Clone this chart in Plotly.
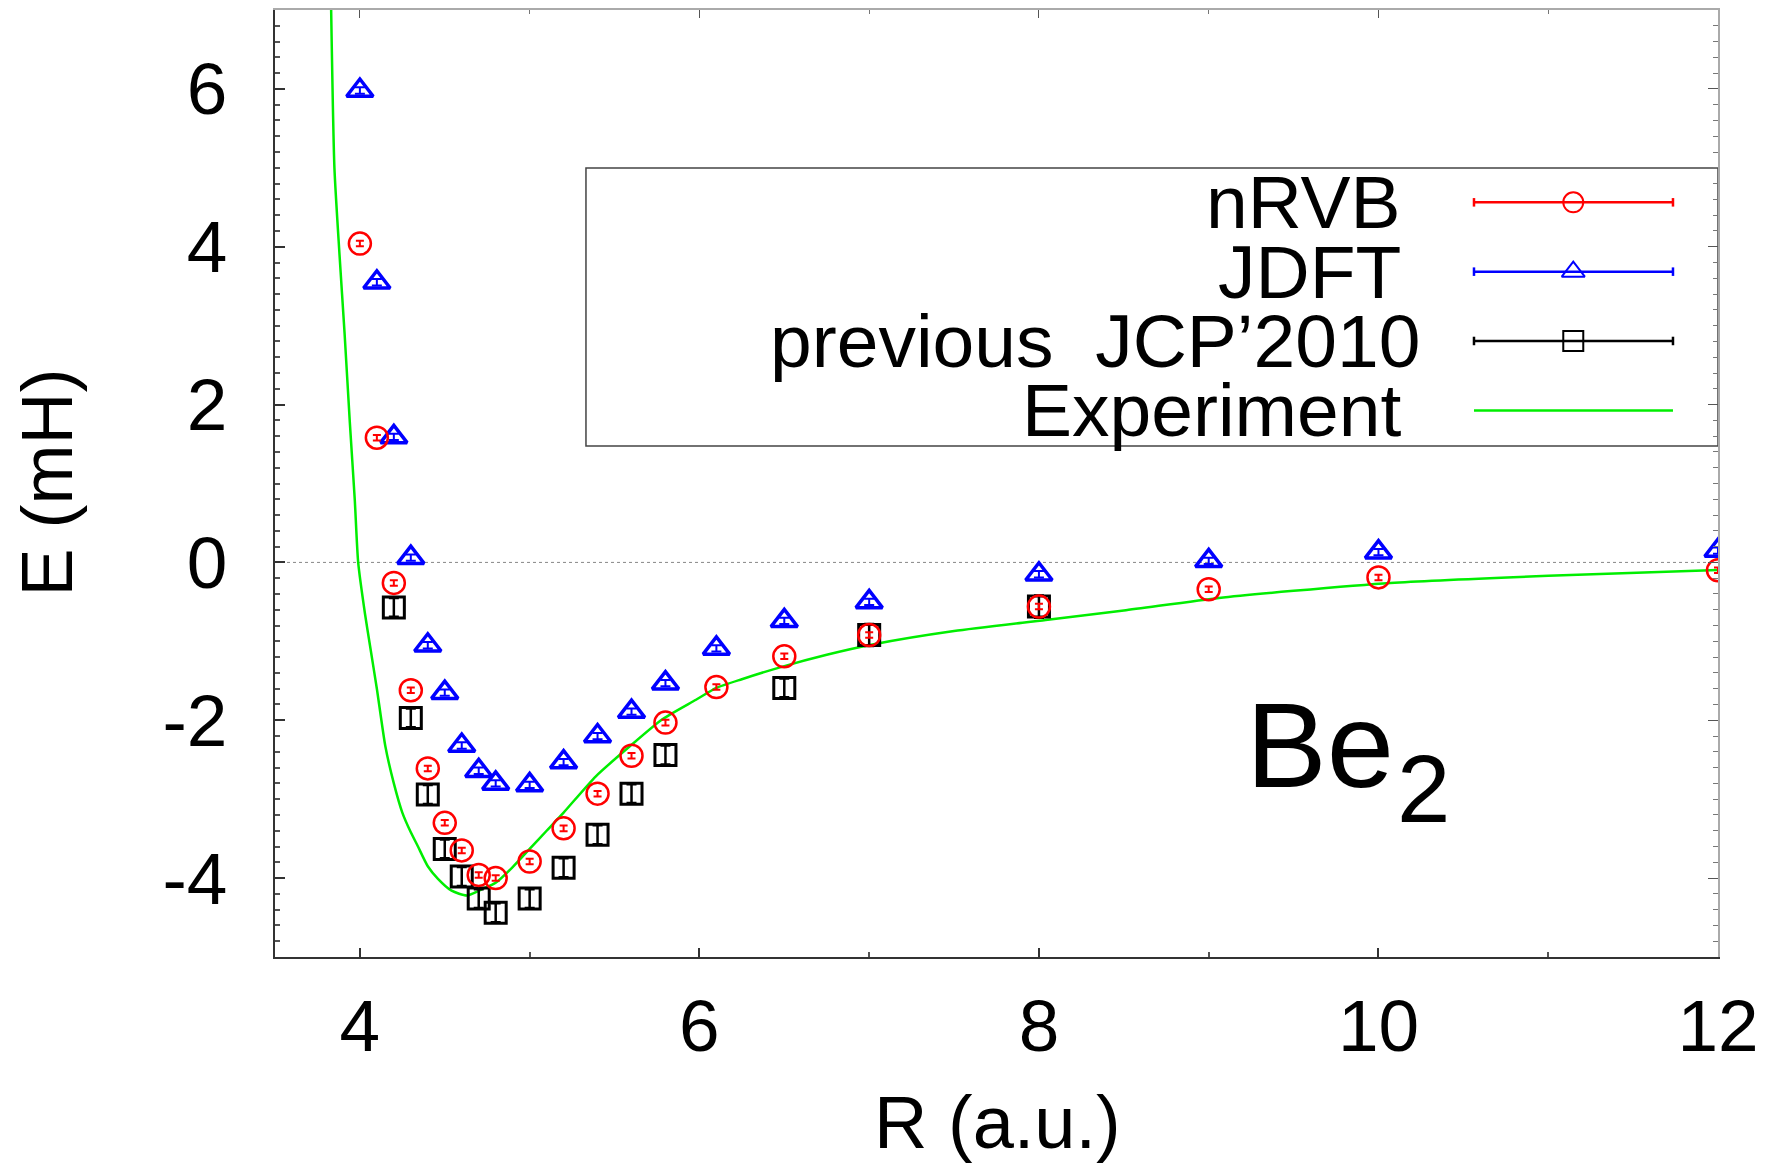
import plotly.graph_objects as go

# ---------------- data ----------------
nrvb_R = [4.0, 4.1, 4.2, 4.3, 4.4, 4.5, 4.6, 4.7, 4.8, 5.0, 5.2, 5.4, 5.6, 5.8, 6.1, 6.5, 7.0, 8.0, 9.0, 10.0, 12.0]
nrvb_E = [4.04, 1.58, -0.26, -1.62, -2.61, -3.30, -3.65, -3.96, -4.00, -3.79, -3.37, -2.93, -2.45, -2.03, -1.58, -1.19, -0.92, -0.56, -0.34, -0.19, -0.10]
nrvb_err = [0.035, 0.035, 0.035, 0.035, 0.035, 0.035, 0.035, 0.035, 0.035, 0.035, 0.035, 0.035, 0.035, 0.035, 0.035, 0.035, 0.035, 0.035, 0.035, 0.035, 0.035]

jdft_R = [4.0, 4.1, 4.2, 4.3, 4.4, 4.5, 4.6, 4.7, 4.8, 5.0, 5.2, 5.4, 5.6, 5.8, 6.1, 6.5, 7.0, 8.0, 9.0, 10.0, 12.0]
jdft_E = [5.98, 3.55, 1.59, 0.06, -1.05, -1.65, -2.32, -2.64, -2.80, -2.82, -2.53, -2.20, -1.89, -1.53, -1.09, -0.74, -0.50, -0.15, 0.02, 0.13, 0.15]
jdft_err = [0.04, 0.04, 0.04, 0.04, 0.04, 0.04, 0.04, 0.04, 0.04, 0.04, 0.04, 0.04, 0.04, 0.04, 0.04, 0.04, 0.04, 0.04, 0.04, 0.04, 0.04]

prev_R = [4.2, 4.3, 4.4, 4.5, 4.6, 4.7, 4.8, 5.0, 5.2, 5.4, 5.6, 5.8, 6.5, 7.0, 8.0]
prev_E = [-0.57, -1.97, -2.94, -3.63, -3.98, -4.26, -4.44, -4.26, -3.87, -3.45, -2.93, -2.44, -1.59, -0.92, -0.56]
prev_err = [0.12, 0.12, 0.12, 0.12, 0.12, 0.12, 0.12, 0.12, 0.12, 0.12, 0.12, 0.12, 0.12, 0.14, 0.14]

exp_R = [3.83, 3.85, 3.88, 3.91, 3.94, 3.97, 3.99, 4.03, 4.06, 4.10, 4.15, 4.20, 4.25, 4.30, 4.34,
         4.40, 4.46, 4.54, 4.63, 4.72, 4.80, 4.90, 5.00, 5.10, 5.20, 5.39, 5.59, 5.78, 5.98, 6.10,
         6.25, 6.49, 6.75, 7.02, 7.50, 8.04, 8.50, 9.06, 9.50, 10.07, 11.0, 12.0]
exp_E = [7.1, 5.0, 3.9, 2.9, 1.8, 0.79, 0.0, -0.65, -1.06, -1.6, -2.33, -2.8, -3.17, -3.42, -3.59,
         -3.85, -4.01, -4.16, -4.22, -4.14, -4.06, -3.86, -3.63, -3.40, -3.17, -2.71, -2.33, -1.99, -1.74, -1.59,
         -1.48, -1.32, -1.17, -1.04, -0.87, -0.73, -0.61, -0.45, -0.36, -0.26, -0.17, -0.095]

x_ticks = [4, 6, 8, 10, 12]
x_ticktext = ["4", "6", "8", "10", "12"]
y_ticks = [-4, -2, 0, 2, 4, 6]
y_ticktext = ["-4", "-2", "0", "2", "4", "6"]

series_names = ["nRVB", "JDFT", "previous\u00a0 JCP\u20192010", "Experiment"]

# ---------------- style ----------------
FONT = "Liberation Sans, Arial, Helvetica, sans-serif"
RED, BLUE, BLACK, GREEN = "#ff0000", "#0000ff", "#000000", "#00ee00"
XR = [3.5, 12.0]
YR = [-5.0, 7.0]

fig = go.Figure()

fig.add_trace(go.Scatter(
    x=exp_R, y=exp_E, mode="lines", line=dict(color=GREEN, width=2.5, shape="spline", smoothing=0.6),
    name=series_names[3], showlegend=False))

fig.add_trace(go.Scatter(
    x=prev_R, y=prev_E, mode="markers", name=series_names[2], showlegend=False,
    marker=dict(symbol="square-open", size=21, color=BLACK, line=dict(width=3, color=BLACK)),
    error_y=dict(type="data", array=prev_err, color=BLACK, thickness=2.5, width=5)))

fig.add_trace(go.Scatter(
    x=jdft_R, y=jdft_E, mode="markers", name=series_names[1], showlegend=False,
    marker=dict(symbol="triangle-up-open", size=23, color=BLUE, line=dict(width=3.5, color=BLUE)),
    error_y=dict(type="data", array=jdft_err, color=BLUE, thickness=2, width=5)))

fig.add_trace(go.Scatter(
    x=nrvb_R, y=nrvb_E, mode="markers", name=series_names[0], showlegend=False,
    marker=dict(symbol="circle-open", size=22, color=RED, line=dict(width=2.5, color=RED)),
    error_y=dict(type="data", array=nrvb_err, color=RED, thickness=2, width=4)))

# ---------------- custom legend (text left, sample right) ----------------
leg_rows = [0.7969, 0.7237, 0.6505, 0.5771]
leg_text_right = [0.7817, 0.7817, 0.7947, 0.7817]
leg_colors = [RED, BLUE, BLACK, GREEN]
leg_symbols = ["circle-open", "triangle-up-open", "square-open", None]
leg_x0, leg_x1, leg_xm = 0.8309, 0.9688, 0.8997

shapes = []
shapes.append(dict(type="rect", xref="paper", yref="paper", x0=0.2155, x1=1.0, y0=0.5396, y1=0.8332,
                   line=dict(color="#444444", width=1.5), fillcolor="rgba(0,0,0,0)", layer="below"))
annotations = []
for nm, yy, xr, col, sym in zip(series_names, leg_rows, leg_text_right, leg_colors, leg_symbols):
    annotations.append(dict(text=nm, xref="paper", yref="paper", x=xr, y=yy, xanchor="right",
                            yanchor="middle", showarrow=False, font=dict(family=FONT, size=75, color="black")))
    shapes.append(dict(type="line", xref="paper", yref="paper", x0=leg_x0, x1=leg_x1, y0=yy, y1=yy,
                       line=dict(color=col, width=2.5)))
    if sym is not None:
        for xc in (leg_x0, leg_x1):
            shapes.append(dict(type="line", xref="paper", yref="paper", x0=xc, x1=xc,
                               y0=yy - 0.0045, y1=yy + 0.0045, line=dict(color=col, width=2.5)))
        fig.add_trace(go.Scatter(x=[leg_xm], y=[yy], xaxis="x3", yaxis="y3", mode="markers",
                                 showlegend=False, hoverinfo="skip",
                                 marker=dict(symbol=sym, size=20, color=col, line=dict(width=2, color=col))))

# zero reference line (dotted)
shapes.append(dict(type="line", xref="x", yref="y", x0=XR[0], x1=XR[1], y0=0, y1=0,
                   line=dict(color="#888888", width=1, dash="dot"), layer="below"))

# Be2 label
annotations.append(dict(text="Be", xref="x", yref="y", x=9.205, y=-2.31, xanchor="left", yanchor="middle",
                        showarrow=False, font=dict(family=FONT, size=121, color="black")))
annotations.append(dict(text="2", xref="x", yref="y", x=10.095, y=-2.86, xanchor="left", yanchor="middle",
                        showarrow=False, font=dict(family=FONT, size=96, color="black")))

# axis titles
annotations.append(dict(text="R (a.u.)", xref="paper", yref="paper", x=0.501, y=-0.175,
                        xanchor="center", yanchor="middle", showarrow=False,
                        font=dict(family=FONT, size=74, color="black")))
annotations.append(dict(text="E (mH)", xref="paper", yref="paper", x=-0.158, y=0.501, textangle=-90,
                        xanchor="center", yanchor="middle", showarrow=False,
                        font=dict(family=FONT, size=72, color="black")))

axis_common = dict(showgrid=False, zeroline=False, ticks="inside", mirror=False)

fig.update_layout(
    width=1779, height=1167,
    margin=dict(l=275, r=61, t=10, b=210, pad=0),
    paper_bgcolor="white", plot_bgcolor="white",
    showlegend=False,
    font=dict(family=FONT, color="black"),
    xaxis=dict(range=XR, tickmode="array", tickvals=x_ticks, ticktext=x_ticktext,
               ticklen=9, tickwidth=1.5, tickcolor="#333333",
               showline=True, linecolor="#333333", linewidth=2,
               tickfont=dict(family=FONT, size=73, color="black"), ticklabelstandoff=4,
               minor=dict(tickmode="linear", tick0=0, dtick=1, ticklen=5, ticks="inside", tickcolor="#555555"),
               **axis_common),
    yaxis=dict(range=YR, tickmode="array", tickvals=y_ticks, ticktext=y_ticktext,
               ticklen=10, tickwidth=1.5, tickcolor="#333333",
               showline=True, linecolor="#333333", linewidth=2,
               tickfont=dict(family=FONT, size=73, color="black"), ticklabelstandoff=31,
               minor=dict(tickmode="linear", tick0=0, dtick=0.2, ticklen=5, ticks="inside", tickcolor="#555555"),
               **axis_common),
    xaxis2=dict(range=XR, overlaying="x", side="top", anchor="y", tickmode="array", tickvals=x_ticks,
                showticklabels=False, ticklen=8, tickcolor="#555555",
                showline=True, linecolor="#aaaaaa", linewidth=2,
                minor=dict(tickmode="linear", tick0=0, dtick=1, ticklen=4, ticks="inside", tickcolor="#777777"),
                **axis_common),
    yaxis2=dict(range=YR, overlaying="y", side="right", anchor="x", tickmode="array", tickvals=y_ticks,
                showticklabels=False, ticklen=10, tickcolor="#555555",
                showline=True, linecolor="#aaaaaa", linewidth=2,
                minor=dict(tickmode="linear", tick0=0, dtick=0.2, ticklen=5, ticks="inside", tickcolor="#777777"),
                **axis_common),
    xaxis3=dict(range=[0, 1], overlaying="x", visible=False, fixedrange=True),
    yaxis3=dict(range=[0, 1], overlaying="y", visible=False, fixedrange=True),
    shapes=shapes,
    annotations=annotations,
)

fig.add_trace(go.Scatter(x=[XR[0]], y=[YR[0]], xaxis="x2", yaxis="y2", mode="markers",
                         marker=dict(opacity=0), showlegend=False, hoverinfo="skip"))

fig.write_html("out.html")
